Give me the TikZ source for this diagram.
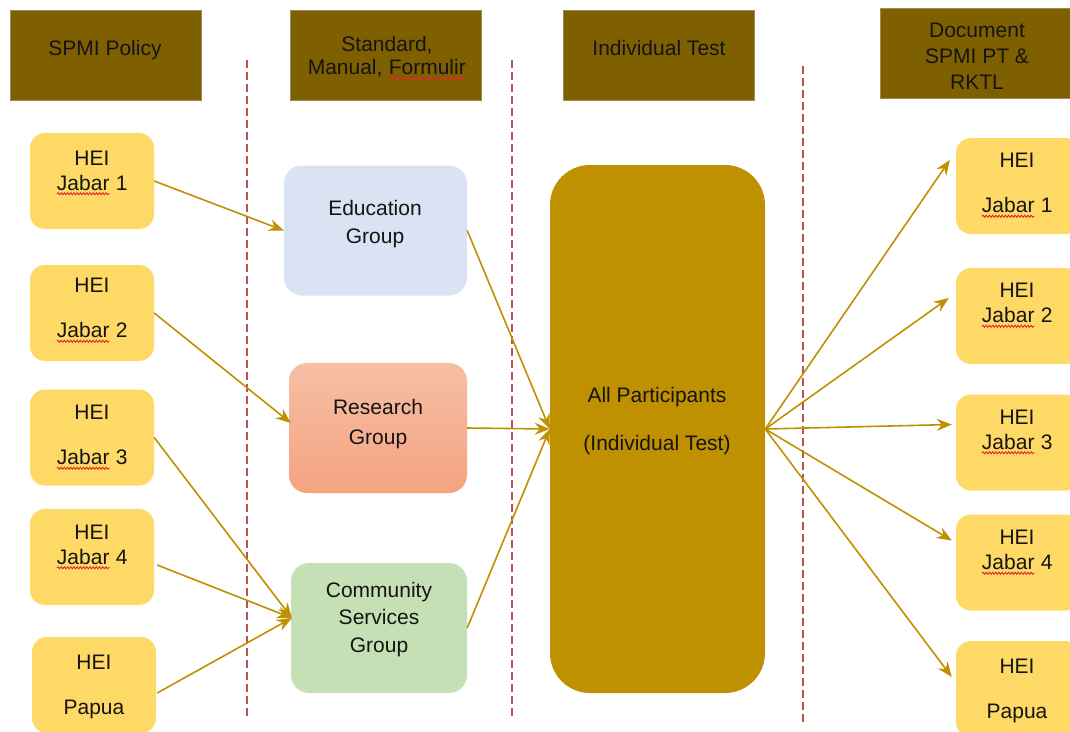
\documentclass[tikz,border=0pt]{standalone}
\usepackage{fontspec}
\setmainfont{Liberation Sans}
\usetikzlibrary{arrows.meta,calc,decorations.pathmorphing}

\definecolor{hdr}{HTML}{7F6000}
\definecolor{hdredge}{HTML}{A08A55}
\definecolor{hei}{HTML}{FFD966}
\definecolor{gold}{HTML}{BF9000}
\definecolor{edu}{HTML}{DAE3F3}
\definecolor{resTop}{HTML}{F6BFA6}
\definecolor{resBot}{HTML}{F4A380}
\definecolor{comm}{HTML}{C5E0B4}
\definecolor{sepred}{HTML}{C0504D}
\definecolor{ink}{HTML}{141414}
\definecolor{spell}{HTML}{E02828}

% word with a red wavy underline
\newcommand\spellmark[1]{\tikz[baseline=(w.base)]{\node[inner sep=0pt,outer sep=0pt](w){#1};%
  \draw[spell,line width=0.9pt,decorate,decoration={snake,amplitude=1pt,segment length=3.2pt}]
    ([yshift=-3.5pt]w.base west)--([yshift=-3.5pt]w.base east);}}

\begin{document}
\begin{tikzpicture}[x=1pt,y=-1pt,
  hdrbox/.style={rectangle,fill=hdr,draw=hdredge,line width=0.8pt,
    minimum width=191pt,minimum height=90pt,inner sep=0pt},
  heibox/.style={rectangle,rounded corners=15pt,fill=hei,
    minimum width=124pt,minimum height=96pt,inner sep=0pt},
  grpbox/.style={rectangle,rounded corners=18pt,minimum height=130pt,inner sep=0pt},
  allbox/.style={rectangle,rounded corners=40pt,fill=gold,
    minimum width=215pt,minimum height=528pt,inner sep=0pt},
  lbl/.style={align=center,inner sep=0pt,text=ink,font=\fontsize{21}{25}\selectfont},
  flow/.style={draw=gold,line width=1.6pt,-{Stealth[length=15pt,width=12pt,inset=5pt]}},
  sepline/.style={draw=sepred,line width=1.1pt,dash pattern=on 8pt off 4pt}]

\useasboundingbox (0,0) rectangle (1070,731);
\clip (0,0) rectangle (1070,731);
\fill[white] (0,0) rectangle (1070,731);

% column separators
\draw[sepline] (247,60) -- (247,718);
\draw[sepline] (512,60) -- (512,718);
\draw[sepline] (803,66) -- (803,724);

% column headers
\node[hdrbox] (h1) at (105.5,55) {};
\node[hdrbox] (h2) at (386,55) {};
\node[hdrbox] (h3) at (659,55) {};
\node[hdrbox] (h4) at (976,53) {};
\node[lbl] (h1t) at (105,50) {SPMI Policy};
\node[lbl,font=\fontsize{21}{23}\selectfont] (h2t) at (387,58) {Standard,\\Manual, \spellmark{Formulir}};
\node[lbl] (h3t) at (659,48) {Individual Test};
\node[lbl,font=\fontsize{21}{26}\selectfont] (h4t) at (977,56) {Document\\SPMI PT \&\\RKTL};

% source institutions
\node[heibox] (l1) at (92,181) {};
\node[heibox] (l2) at (92,313) {};
\node[heibox] (l3) at (92,437.5) {};
\node[heibox] (l4) at (92,557) {};
\node[heibox] (l5) at (94,685) {};
\node[lbl] (l1t) at (92,173) {HEI\\\spellmark{Jabar} 1};
\node[lbl] (l2t) at (92,310.5) {HEI\\[20pt]\spellmark{Jabar} 2};
\node[lbl] (l3t) at (92,437.5) {HEI\\[20pt]\spellmark{Jabar} 3};
\node[lbl] (l4t) at (92,547) {HEI\\\spellmark{Jabar} 4};
\node[lbl] (l5t) at (94,686.5) {HEI\\[20pt]Papua};

% groups
\node[grpbox,fill=edu,minimum width=183pt] (edu) at (375.5,230.5) {};
\node[grpbox,top color=resTop,bottom color=resBot,minimum width=178pt] (res) at (378,428) {};
\node[grpbox,fill=comm,minimum width=176pt] (com) at (379,628) {};
\node[lbl,font=\fontsize{21}{28}\selectfont] (edut) at (375,224) {Education\\Group};
\node[lbl,font=\fontsize{21}{30}\selectfont] (rest) at (378,424) {Research\\Group};
\node[lbl,font=\fontsize{21}{27.5}\selectfont] (comt) at (379,619.5) {Community\\Services\\Group};

% individual test
\node[allbox] (all) at (657.5,429) {};
\node[lbl,font=\fontsize{21}{48}\selectfont] (allt) at (657,421) {All Participants\\(Individual Test)};

% resulting documents
\node[heibox] (r1) at (1018,186) {};
\node[heibox] (r2) at (1018,316) {};
\node[heibox] (r3) at (1018,442.5) {};
\node[heibox] (r4) at (1018,562.5) {};
\node[heibox] (r5) at (1018,689) {};
\node[lbl] (r1t) at (1017,185.5) {HEI\\[20pt]\spellmark{Jabar} 1};
\node[lbl] (r2t) at (1017,305.5) {HEI\\\spellmark{Jabar} 2};
\node[lbl] (r3t) at (1017,432) {HEI\\\spellmark{Jabar} 3};
\node[lbl] (r4t) at (1017,552.5) {HEI\\\spellmark{Jabar} 4};
\node[lbl] (r5t) at (1017,690.5) {HEI\\[20pt]Papua};

% flows into the groups
\draw[flow] (l1.east) -- (edu.west);
\draw[flow] (l2.east) -- ($(res.west)+(2,-5)$);
\draw[flow] (l3.east) -- ($(com.west)+(1,-10)$);
\draw[flow] ($(l4.east)+(3,8)$) -- ($(com.west)+(1,-10)$);
\draw[flow] ($(l5.east)+(1,8)$) -- ($(com.west)+(1,-10)$);

% flows into the test
\draw[flow] (edu.east) -- (all.west);
\draw[flow] (res.east) -- (all.west);
\draw[flow] (com.east) -- (all.west);

% flows out to the documents
\draw[flow] (all.east) -- ($(r1.west)+(-6,-26)$);
\draw[flow] (all.east) -- ($(r2.west)+(-7,-18)$);
\draw[flow] (all.east) -- ($(r3.west)+(-4,-18)$);
\draw[flow] (all.east) -- ($(r4.west)+(-4,-22)$);
\draw[flow] (all.east) -- ($(r5.west)+(-4,-12)$);
\end{tikzpicture}
\end{document}
